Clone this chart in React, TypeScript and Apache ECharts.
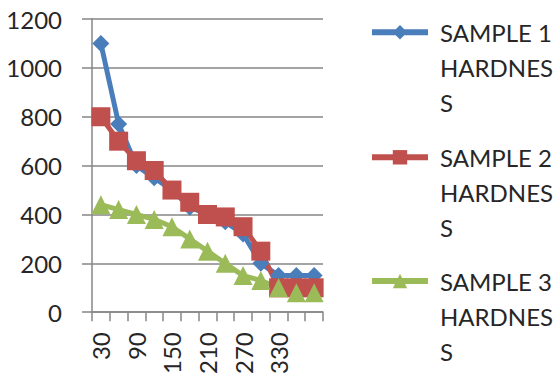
import React, { useEffect, useRef } from "react";
import * as echarts from "echarts";

const categories = ["30", "60", "90", "120", "150", "180", "210", "240", "270", "300", "330", "360", "390"];
const sample1 = [1100, 770, 600, 550, 500, 430, 400, 370, 320, 200, 150, 150, 150];
const sample2 = [800, 700, 620, 580, 500, 450, 400, 390, 350, 250, 100, 100, 100];
const sample3 = [440, 420, 400, 380, 350, 300, 250, 200, 150, 130, 100, 80, 80];
const seriesNames = ["SAMPLE 1 HARDNESS", "SAMPLE 2 HARDNESS", "SAMPLE 3 HARDNESS"];
const yTicks = { min: 0, max: 1200, interval: 200 };

const colors = ["#4A7EBB", "#C0504D", "#9BBB59"];
const symbols = ["diamond", "rect", "triangle"];
const symbolSizes = [17, 19, 19];
const FONT = "Lato, 'Open Sans', sans-serif";

export default function App() {
  const ref = useRef<HTMLDivElement>(null);
  useEffect(() => {
    if (!ref.current) return;
    const chart = echarts.init(ref.current, null, { renderer: "svg" });
    const datas = [sample1, sample2, sample3];
    const legendTops = [-55.2, 69.8, 193.5];
    const option: any = {
      animation: false,
      backgroundColor: "#ffffff",
      textStyle: { fontFamily: FONT },
      grid: { left: 92, right: 233, top: 19, bottom: 61.5, containLabel: false },
      legend: seriesNames.map((n, i) => ({
        data: [n],
        orient: "vertical",
        left: 369,
        top: legendTops[i],
        padding: 0,
        itemWidth: 56,
        itemHeight: 18,
        lineStyle: { width: 6 },
        selectedMode: false,
        formatter: (name: string) => "\n\n" + name.replace(" HARDNESS", "\nHARDNES\nS"),
        textStyle: {
          fontFamily: FONT,
          fontSize: 24,
          lineHeight: 35,
          color: "#262626",
          padding: [0, 0, 0, 7],
        },
      })),
      xAxis: {
        type: "category",
        data: categories,
        boundaryGap: true,
        axisLine: { show: true, lineStyle: { color: "#868686", width: 1.5 } },
        axisTick: { show: true, interval: 0, length: 9, lineStyle: { color: "#868686", width: 1.5 } },
        axisLabel: {
          interval: (idx: number) => idx % 2 === 0 && idx < 12,
          rotate: 90,
          margin: 20,
          fontFamily: FONT,
          fontSize: 24,
          color: "#262626",
        },
        splitLine: { show: false },
      },
      yAxis: {
        type: "value",
        min: yTicks.min,
        max: yTicks.max,
        interval: yTicks.interval,
        axisLine: { show: true, lineStyle: { color: "#868686", width: 1.5 } },
        axisTick: { show: true, length: 10, lineStyle: { color: "#868686", width: 1.5 } },
        axisLabel: {
          margin: 30,
          fontFamily: FONT,
          fontSize: 24,
          color: "#262626",
          formatter: (v: number) => String(v),
        },
        splitLine: { show: true, lineStyle: { color: "#868686", width: 1.5 } },
      },
      series: seriesNames.map((n, i) => ({
        name: n,
        type: "line",
        data: datas[i],
        symbol: symbols[i],
        symbolSize: symbolSizes[i],
        showAllSymbol: true,
        lineStyle: { color: colors[i], width: 5 },
        itemStyle: { color: colors[i] },
        emphasis: { disabled: true },
      })),
    };
    chart.setOption(option);
    return () => chart.dispose();
  }, []);
  return (
    <div
      ref={ref}
      style={{ position: "fixed", left: 0, top: 0, width: 556, height: 377, background: "#fff" }}
    />
  );
}
